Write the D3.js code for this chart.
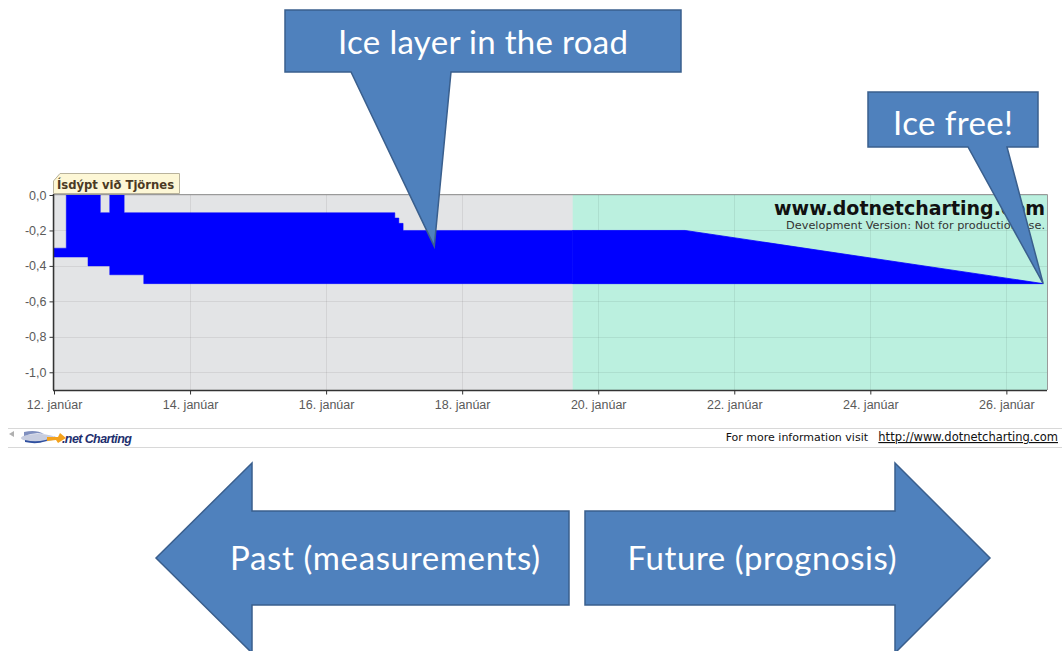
<!DOCTYPE html>
<html>
<head>
<meta charset="utf-8">
<script src="https://cdn.jsdelivr.net/npm/d3@7"></script>
<style>
  html, body { margin: 0; padding: 0; background: #ffffff; }
  svg { display: block; }
</style>
</head>
<body>
<svg id="chart" width="1062" height="651"></svg>
<script>
// Ice depth at Tjörnes: measured band (step data) and prognosis band (linear).
const measTime   = ["2011-01-12 00:00", "2011-01-12 04:20", "2011-01-12 12:00", "2011-01-12 16:20",
                    "2011-01-12 19:40", "2011-01-13 00:45", "2011-01-13 07:40", "2011-01-17 00:15",
                    "2011-01-17 01:40", "2011-01-17 03:10", "2011-01-19 15:00"];
const measTop    = [-0.30, 0.00, 0.00, -0.10, 0.00, -0.10, -0.10, -0.13, -0.16, -0.20, -0.20];
const measBottom = [-0.35, -0.35, -0.40, -0.40, -0.45, -0.45, -0.50, -0.50, -0.50, -0.50, -0.50];

const progTime   = ["2011-01-19 15:00", "2011-01-21 06:40", "2011-01-26 13:00"];
const progTop    = [-0.20, -0.20, -0.50];
const progBottom = [-0.50, -0.50, -0.50];

const yTicks = [0.0, -0.2, -0.4, -0.6, -0.8, -1.0];
const xTickDates = ["2011-01-12", "2011-01-14", "2011-01-16", "2011-01-18",
                    "2011-01-20", "2011-01-22", "2011-01-24", "2011-01-26"];
const xDomain = ["2011-01-12 00:00", "2011-01-26 14:20"];
const yDomain = [-1.1, 0];

const seriesName = "Ísdýpt við Tjörnes";
const callouts = [
  { text: "Ice layer in the road", at: ["2011-01-17 14:10", -0.29] },
  { text: "Ice free!", at: [progTime[progTime.length - 1], progTop[progTop.length - 1]] }
];
const pastLabel = "Past (measurements)";
const futureLabel = "Future (prognosis)";

const parseT = d3.timeParse("%Y-%m-%d %H:%M");
const parseD = d3.timeParse("%Y-%m-%d");

const isLocale = d3.timeFormatLocale({
  dateTime: "%A, %e. %B %Y %X", date: "%d.%m.%Y", time: "%H:%M:%S",
  periods: ["f.h.", "e.h."],
  days: ["sunnudagur","mánudagur","þriðjudagur","miðvikudagur","fimmtudagur","föstudagur","laugardagur"],
  shortDays: ["sun","mán","þri","mið","fim","fös","lau"],
  months: ["janúar","febrúar","mars","apríl","maí","júní","júlí","ágúst","september","október","nóvember","desember"],
  shortMonths: ["jan","feb","mar","apr","maí","jún","júl","ágú","sep","okt","nóv","des"]
});
const numLocale = d3.formatLocale({ decimal: ",", thousands: ".", grouping: [3], currency: ["", " kr"], minus: "-" });
const fmtY = numLocale.format(".1f");
const fmtX = isLocale.format("%-d. %B");

const svg = d3.select("#chart");

const plot = { left: 53, right: 1047, top: 194, bottom: 390 };
const x = d3.scaleTime().domain(xDomain.map(parseT)).range([54, plot.right]);
const y = d3.scaleLinear().domain(yDomain).range([plot.bottom, 195]);

const meas = measTime.map((t, i) => ({ t: parseT(t), top: measTop[i], bot: measBottom[i] }));
const prog = progTime.map((t, i) => ({ t: parseT(t), top: progTop[i], bot: progBottom[i] }));

// Plot background: grey for the measured period, green for the prognosis period
const g = svg.append("g");
g.append("rect")
  .attr("x", plot.left).attr("y", plot.top)
  .attr("width", plot.right - plot.left).attr("height", plot.bottom - plot.top)
  .attr("fill", "#e3e4e6");
g.append("rect")
  .attr("x", x(prog[0].t)).attr("y", plot.top)
  .attr("width", plot.right - x(prog[0].t)).attr("height", plot.bottom - plot.top)
  .attr("fill", "#bbf0df");

// Grid lines
const grid = g.append("g").attr("stroke", "rgba(0,0,0,0.07)").attr("stroke-width", 1);
xTickDates.map(parseD).forEach(d => {
  grid.append("line").attr("x1", Math.round(x(d)) + 0.5).attr("x2", Math.round(x(d)) + 0.5)
    .attr("y1", plot.top).attr("y2", plot.bottom);
});
yTicks.forEach(v => {
  grid.append("line").attr("x1", plot.left).attr("x2", plot.right)
    .attr("y1", Math.round(y(v)) + 0.5).attr("y2", Math.round(y(v)) + 0.5);
});

// Ice band
const areaStep = d3.area().x(d => x(d.t)).y0(d => y(d.bot)).y1(d => y(d.top)).curve(d3.curveStepAfter);
const areaLin = d3.area().x(d => x(d.t)).y0(d => y(d.bot)).y1(d => y(d.top));
g.append("path").datum(meas).attr("d", areaStep).attr("fill", "#0000ff")
  .attr("stroke", "#0000ff").attr("stroke-width", 0.5);
g.append("path").datum(prog).attr("d", areaLin).attr("fill", "#0000ff")
  .attr("stroke", "#0000ff").attr("stroke-width", 0.8);

// Plot frame (top/right)
g.append("path")
  .attr("d", `M${plot.left},${plot.top + 0.5}H${plot.right + 0.5}V${plot.bottom}`)
  .attr("fill", "none").attr("stroke", "#9a9a9a");

// Axes
const yAxis = d3.axisLeft(y).tickValues(yTicks).tickFormat(fmtY).tickSize(4).tickSizeOuter(0);
const xAxis = d3.axisBottom(x).tickValues(xTickDates.map(parseD)).tickFormat(fmtX).tickSize(4).tickSizeOuter(0);

const axisFont = "Liberation Sans, Arial, sans-serif";
const ya = svg.append("g").attr("transform", `translate(${plot.left + 0.5},0)`).call(yAxis);
ya.select(".domain").attr("d", `M0,${plot.top}V${plot.bottom}`).attr("stroke", "#333").attr("stroke-width", 1.5);
ya.selectAll(".tick line").attr("stroke", "#333");
ya.selectAll(".tick text").attr("font-family", axisFont)
  .attr("font-size", 12.5).attr("fill", "#5a5a5a").attr("x", -7);

const xa = svg.append("g").attr("transform", `translate(0,${plot.bottom + 0.5})`).call(xAxis);
xa.select(".domain").attr("d", `M${plot.left},0H${plot.right}`).attr("stroke", "#333").attr("stroke-width", 1.5);
xa.selectAll(".tick line").attr("stroke", "#333");
xa.selectAll(".tick text").attr("font-family", axisFont)
  .attr("font-size", 12.5).attr("fill", "#5a5a5a").attr("dy", "0.95em").attr("y", 7);

// Series name tag
const tag = svg.append("g");
tag.append("path")
  .attr("d", "M53.5,181 L60,173.5 H179.5 V193.5 H53.5 Z")
  .attr("fill", "#fdf7d6").attr("stroke", "#b9b39c");
tag.append("text").attr("x", 57).attr("y", 188.5)
  .attr("font-family", "DejaVu Sans, Verdana, sans-serif").attr("font-weight", "bold")
  .attr("font-size", 11.6).attr("fill", "#4b3a24").text(seriesName);

// Watermark
svg.append("text").attr("x", 1045).attr("y", 215).attr("text-anchor", "end")
  .attr("font-family", "DejaVu Sans, Verdana, sans-serif").attr("font-weight", "bold")
  .attr("font-size", 19).attr("fill", "#111").text("www.dotnetcharting.com");
svg.append("text").attr("x", 1045).attr("y", 229).attr("text-anchor", "end")
  .attr("font-family", "DejaVu Sans, Verdana, sans-serif")
  .attr("font-size", 11.3).attr("fill", "#333").text("Development Version: Not for production use.");

// Footer strip
const foot = svg.append("g");
foot.append("line").attr("x1", 8).attr("x2", 1062).attr("y1", 428.5).attr("y2", 428.5).attr("stroke", "#d8d8d8");
foot.append("line").attr("x1", 8).attr("x2", 1062).attr("y1", 447.5).attr("y2", 447.5).attr("stroke", "#d8d8d8");
foot.append("path").attr("d", "M9,434 L14,431 L14,437 Z").attr("fill", "#b0b0b0");
foot.append("ellipse").attr("cx", 38).attr("cy", 438).attr("rx", 17).attr("ry", 4).attr("fill", "#c7cde0");
foot.append("path").attr("d", "M24,432 Q36,429 44,434 Q34,432 24,436 Z").attr("fill", "#7f8fbf");
foot.append("path").attr("d", "M25,440 Q40,444 56,436 Q42,446 25,442 Z").attr("fill", "#2f4f9f");
foot.append("path").attr("d", "M47,437 L58,437 L60,433 L66,438 L58,443 L56,440 L47,441 Z").attr("fill", "#f4a21c");
foot.append("text").attr("x", 62).attr("y", 443)
  .attr("font-family", "Liberation Sans, Arial, sans-serif").attr("font-weight", "bold")
  .attr("font-style", "italic").attr("font-size", 12.5).attr("fill", "#1e2f6e")
  .attr("letter-spacing", -0.6).text(".net Charting");
foot.append("text").attr("x", 868).attr("y", 441).attr("text-anchor", "end")
  .attr("font-family", "DejaVu Sans, Verdana, sans-serif").attr("font-size", 11).attr("fill", "#111")
  .text("For more information visit");
foot.append("text").attr("x", 1058).attr("y", 441).attr("text-anchor", "end")
  .attr("font-family", "DejaVu Sans, Verdana, sans-serif").attr("font-size", 11.5).attr("fill", "#111")
  .attr("text-decoration", "underline").text("http://www.dotnetcharting.com");

// Callouts
const calloutFill = "#4f81bd", calloutStroke = "#3a5f8d";
const calloutFont = "Lato, 'Open Sans', sans-serif";
const boxes = [
  { x0: 285, x1: 681, y0: 10, y1: 72, base: [351, 451], size: 33, ty: 54, w: 290 },
  { x0: 868, x1: 1038, y0: 92, y1: 147, base: [968, 1007], size: 33, ty: 135, w: 120 }
];
callouts.forEach((c, i) => {
  const b = boxes[i];
  const tx = x(parseT(c.at[0])), ty = y(c.at[1]);
  const p = `M${b.x0},${b.y0} H${b.x1} V${b.y1} H${b.base[1]} L${tx},${ty} L${b.base[0]},${b.y1} H${b.x0} Z`;
  svg.append("path").attr("d", p).attr("fill", calloutFill).attr("stroke", calloutStroke)
    .attr("stroke-width", 1.5).attr("stroke-linejoin", "miter");
  svg.append("text").attr("x", (b.x0 + b.x1) / 2).attr("y", b.ty).attr("text-anchor", "middle")
    .attr("font-family", calloutFont).attr("font-size", b.size).attr("fill", "#fff")
    .attr("textLength", b.w).attr("lengthAdjust", "spacing").text(c.text);
});

// Direction arrows
const arrows = [
  { pts: [[156, 558], [252, 463], [252, 511], [569, 511], [569, 605], [252, 605], [252, 653]], label: pastLabel, cx: 385, w: 310 },
  { pts: [[585, 511], [895, 511], [895, 463], [990, 558], [895, 653], [895, 605], [585, 605]], label: futureLabel, cx: 762, w: 269 }
];
arrows.forEach(a => {
  svg.append("path").attr("d", "M" + a.pts.map(p => p.join(",")).join("L") + "Z")
    .attr("fill", calloutFill).attr("stroke", calloutStroke).attr("stroke-width", 1.5);
  svg.append("text").attr("x", a.cx).attr("y", 570).attr("text-anchor", "middle")
    .attr("font-family", calloutFont).attr("font-size", 33).attr("fill", "#fff")
    .attr("textLength", a.w).attr("lengthAdjust", "spacing").text(a.label);
});
</script>
</body>
</html>
